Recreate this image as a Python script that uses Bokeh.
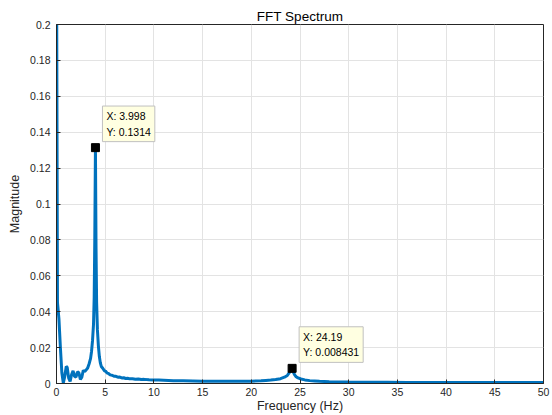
from bokeh.plotting import figure
from bokeh.models import (Range1d, FixedTicker, CustomJSTickFormatter, Label, ColumnDataSource)
from bokeh.embed import file_html
from bokeh.resources import INLINE

freq_hz = [0.0, 0.1, 0.25, 0.4, 0.55, 0.7, 0.85, 1.0, 1.1, 1.25, 1.4, 1.55, 1.7, 1.85, 2.0,
           2.15, 2.3, 2.45, 2.6, 2.75, 2.9, 3.05, 3.2, 3.35, 3.5, 3.6, 3.7, 3.8, 3.87, 3.93,
           3.998, 4.06, 4.12, 4.2, 4.3, 4.4, 4.5, 4.6, 4.75, 4.9, 5.05, 5.2, 5.35, 5.5, 5.7,
           5.9, 6.1, 6.3, 6.5, 6.7, 6.9, 7.1, 7.3, 7.5, 7.8, 8.1, 8.4, 8.7, 9.0, 9.5, 10.0,
           10.5, 11.0, 12, 13, 14, 15, 16, 17, 18, 19, 20, 21, 21.5, 22, 22.5, 23, 23.4, 23.7,
           23.9, 24.05, 24.19, 24.3, 24.45, 24.6, 24.8, 25.1, 25.5, 26, 26.5, 27, 28, 29, 30,
           32, 34, 36, 38, 40, 42, 44, 46, 48, 50]
magnitude = [0.25, 0.045, 0.036, 0.02, 0.006, 0.0003, 0.004, 0.0095, 0.009, 0.003, 0.0012,
             0.005, 0.007, 0.004, 0.0035, 0.0065, 0.006, 0.0022, 0.0035, 0.0074, 0.0066,
             0.0076, 0.0086, 0.011, 0.014, 0.018, 0.024, 0.033, 0.048, 0.08,
             0.1314, 0.075, 0.045, 0.03, 0.021, 0.015, 0.0115, 0.0095, 0.0085, 0.0072, 0.0068,
             0.0058, 0.0056, 0.0048, 0.0046, 0.0041, 0.0040, 0.0035, 0.0036, 0.0031, 0.0032,
             0.0028, 0.0029, 0.0026, 0.0027, 0.0024, 0.0025, 0.0022, 0.0023, 0.0021, 0.002,
             0.0019, 0.0018, 0.0016, 0.0015, 0.0014, 0.0013, 0.0012, 0.0012, 0.0012, 0.0013,
             0.0013, 0.0015, 0.0017, 0.0019, 0.0022, 0.0027, 0.0035, 0.0045, 0.006, 0.0075,
             0.008431, 0.0065, 0.0048, 0.0038, 0.0031, 0.0025, 0.002, 0.0016, 0.0014, 0.0012,
             0.001, 0.0009, 0.0008, 0.0007, 0.0007, 0.0006, 0.0006, 0.0006, 0.0005, 0.0005,
             0.0005, 0.0005, 0.0005]

peak_x = [3.998, 24.19]
peak_y = [0.1314, 0.008431]
peak_text = ["X: 3.998\nY: 0.1314", "X: 24.19\nY: 0.008431"]

x_ticks = [0, 5, 10, 15, 20, 25, 30, 35, 40, 45, 50]
y_ticks = [0, 0.02, 0.04, 0.06, 0.08, 0.1, 0.12, 0.14, 0.16, 0.18, 0.2]

FONT = "Liberation Sans"
AX = "#262626"

p = figure(width=552, height=415, output_backend="svg", toolbar_location=None,
           x_range=Range1d(0, 50), y_range=Range1d(0, 0.2),
           min_border_left=56, min_border_right=9, min_border_top=24, min_border_bottom=32,
           title="FFT Spectrum")
p.title.align = "center"
p.title.text_font = FONT
p.title.text_font_size = "13.5px"
p.title.text_font_style = "normal"
p.title.text_color = "#000000"
p.title.offset = 0
p.title.standoff = 2

p.outline_line_color = AX
p.outline_line_width = 1

for ax in (p.xaxis[0], p.yaxis[0]):
    ax.axis_line_color = AX
    ax.major_tick_line_color = AX
    ax.major_tick_in = 4
    ax.major_tick_out = 0
    ax.minor_tick_line_color = None
    ax.major_label_text_font = FONT
    ax.major_label_text_font_size = "10.5px"
    ax.major_label_text_color = AX
    ax.axis_label_text_font = FONT
    ax.axis_label_text_font_size = "12.5px"
    ax.axis_label_text_font_style = "normal"
    ax.axis_label_text_color = AX

p.xaxis.ticker = FixedTicker(ticks=x_ticks)
p.yaxis.ticker = FixedTicker(ticks=y_ticks)
p.yaxis.formatter = CustomJSTickFormatter(code="return String(Math.round(tick*100)/100);")
p.xaxis.axis_label = "Frequency (Hz)"
p.yaxis.axis_label = "Magnitude"
p.xaxis.major_label_standoff = 4
p.xaxis.axis_label_standoff = 0
p.yaxis.major_label_standoff = 6
p.yaxis.axis_label_standoff = 5

p.xgrid.ticker = FixedTicker(ticks=x_ticks)
p.ygrid.ticker = FixedTicker(ticks=y_ticks)
p.xgrid.grid_line_color = "#E3E3E3"
p.ygrid.grid_line_color = "#E3E3E3"

src = ColumnDataSource(dict(x=freq_hz, y=magnitude))
p.line("x", "y", source=src, line_color="#0072BD", line_width=3)
p.scatter(peak_x, peak_y, marker="square", size=8, fill_color="black", line_color="black")

for px, py, t in zip(peak_x, peak_y, peak_text):
    p.add_layout(Label(x=px, y=py, text=t, x_offset=7, y_offset=6,
                       text_align="left", text_baseline="bottom",
                       text_font=FONT, text_font_size="10.5px", text_color="#000000",
                       text_line_height=1.3,
                       background_fill_color="#FFFFE1", border_line_color="#C0C0C0",
                       padding=4))

p.background_fill_color = "white"
p.border_fill_color = "white"

open("out.html", "w").write(file_html(p, INLINE))
